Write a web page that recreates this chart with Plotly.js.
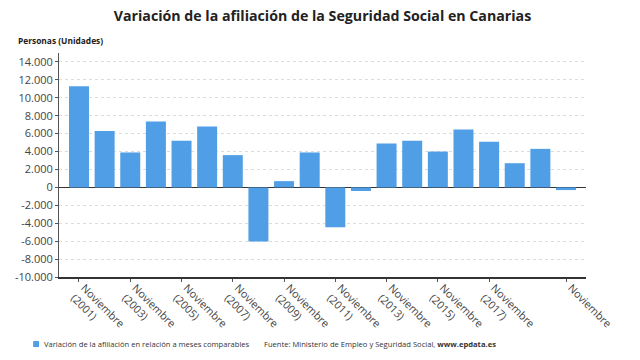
<!DOCTYPE html>
<html>
<head>
<meta charset="utf-8">
<script src="https://cdn.plot.ly/plotly-3.0.1.min.js"></script>
<style>html,body{margin:0;padding:0;background:#fff;}#chart{width:640px;height:360px;}</style>
</head>
<body>
<div id="chart"></div>
<script>
const categories = [
  "Noviembre (2001)","Noviembre (2002)","Noviembre (2003)","Noviembre (2004)","Noviembre (2005)",
  "Noviembre (2006)","Noviembre (2007)","Noviembre (2008)","Noviembre (2009)","Noviembre (2010)",
  "Noviembre (2011)","Noviembre (2012)","Noviembre (2013)","Noviembre (2014)","Noviembre (2015)",
  "Noviembre (2016)","Noviembre (2017)","Noviembre (2018)","Noviembre (2019)","Noviembre"
];
const values = [11300, 6300, 3900, 7350, 5200, 6800, 3600, -6050, 700, 3900,
                -4450, -400, 4900, 5200, 4000, 6450, 5100, 2700, 4300, -300];
const xTickCategories = ["Noviembre (2001)","Noviembre (2003)","Noviembre (2005)","Noviembre (2007)",
  "Noviembre (2009)","Noviembre (2011)","Noviembre (2013)","Noviembre (2015)","Noviembre (2017)","Noviembre"];
const xTickLabels = ["Noviembre<br>(2001)","Noviembre<br>(2003)","Noviembre<br>(2005)","Noviembre<br>(2007)",
  "Noviembre<br>(2009)","Noviembre<br>(2011)","Noviembre<br>(2013)","Noviembre<br>(2015)","Noviembre<br>(2017)","Noviembre"];
const yTickValues = [-10000,-8000,-6000,-4000,-2000,0,2000,4000,6000,8000,10000,12000,14000];
const yTickLabels = ["-10.000","-8.000","-6.000","-4.000","-2.000","0","2.000","4.000","6.000","8.000","10.000","12.000","14.000"];
const seriesName = "Variación de la afiliación en relación a meses comparables";

const barColor = "#4f9ee6";
const font = "Open Sans, Noto Sans, sans-serif";

const data = [{
  type: "bar",
  x: categories,
  y: values,
  name: seriesName,
  marker: {color: barColor},
  hoverinfo: "skip"
}];

const layout = {
  width: 640, height: 360,
  margin: {l: 59, r: 54, t: 53, b: 83},
  paper_bgcolor: "#fff", plot_bgcolor: "#fff",
  font: {family: font, color: "#333"},
  showlegend: false,
  bargap: 0.22,
  title: {
    text: "<b>Variación de la afiliación de la Seguridad Social en Canarias</b>",
    font: {family: font, size: 14.2, color: "#222"},
    x: 0.5, xanchor: "center", xref: "paper", y: 0.955, yanchor: "middle"
  },
  xaxis: {
    type: "category",
    categoryorder: "array", categoryarray: categories,
    range: [-0.78, categories.length - 0.22],
    tickmode: "array", tickvals: xTickCategories, ticktext: xTickLabels,
    tickangle: 45,
    ticklabelshift: 5,
    ticklabelstandoff: -4,
    tickfont: {family: font, size: 10.8, color: "#444"},
    ticks: "outside", ticklen: 3, tickcolor: "#555",
    showgrid: false,
    showline: true, linecolor: "#333", linewidth: 1.5,
    zeroline: false, fixedrange: true
  },
  xaxis2: {
    overlaying: "x", side: "bottom",
    range: [0, 10],
    tickmode: "linear", tick0: 0, dtick: 1,
    showgrid: true, gridcolor: "#e3e3e3", gridwidth: 1,
    showticklabels: false, ticks: "", showline: false, zeroline: false
  },
  yaxis: {
    range: [-10000, 15000],
    tickmode: "array", tickvals: yTickValues, ticktext: yTickLabels,
    tickfont: {family: font, size: 11, color: "#444"},
    showgrid: true, gridcolor: "#dcdcdc", griddash: "dot", gridwidth: 1,
    showline: true, linecolor: "#555", linewidth: 1,
    ticks: "outside", ticklen: 3, tickcolor: "#555",
    zeroline: true, zerolinecolor: "#333", zerolinewidth: 1.5,
    fixedrange: true
  },
  shapes: [{
    type: "rect", xref: "paper", yref: "paper",
    x0: -0.049, x1: -0.038, y0: -0.3125, y1: -0.286,
    fillcolor: barColor, line: {width: 0}
  }],
  annotations: [
    {text: "<b>Personas (Unidades)</b>", xref: "paper", yref: "paper", x: -0.082, y: 1.054,
     xanchor: "left", yanchor: "middle", showarrow: false, font: {family: font, size: 8.4, color: "#222"}},
    {text: seriesName, xref: "paper", yref: "paper", x: -0.033, y: -0.3,
     xanchor: "left", yanchor: "middle", showarrow: false, font: {family: font, size: 7.6, color: "#333"}},
    {text: "Fuente: Ministerio de Empleo y Seguridad Social, <b>www.epdata.es</b>", xref: "paper", yref: "paper", x: 0.385, y: -0.3,
     xanchor: "left", yanchor: "middle", showarrow: false, font: {family: font, size: 7.6, color: "#333"}}
  ]
};

Plotly.newPlot("chart", data, layout, {displayModeBar: false, staticPlot: true});
</script>
</body>
</html>
